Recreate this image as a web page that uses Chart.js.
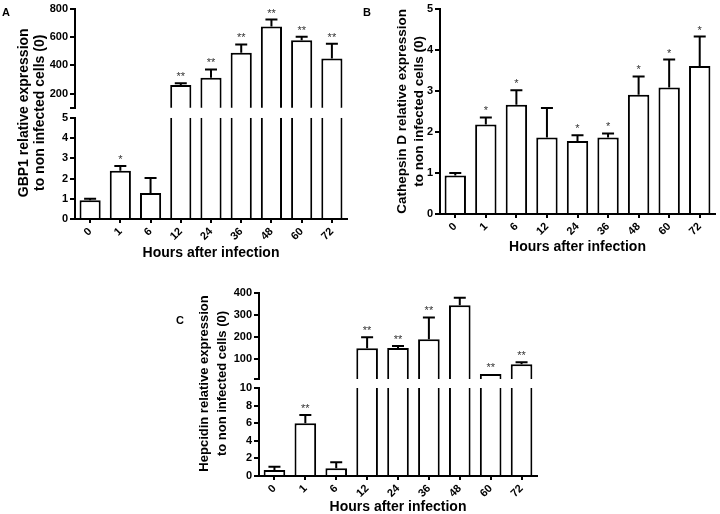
<!DOCTYPE html>
<html>
<head>
<meta charset="utf-8">
<script src="https://cdn.jsdelivr.net/npm/chart.js@4.4.1/dist/chart.umd.min.js"></script>
<style>
  html, body { margin: 0; padding: 0; background: #fff; }
  #fig { position: relative; width: 720px; height: 514px; overflow: hidden; }
  #fig canvas { position: absolute; }
</style>
</head>
<body>
<div id="fig">
  <canvas id="chartA" width="360" height="262" style="left:0;top:0"></canvas>
  <canvas id="chartB" width="360" height="262" style="left:360px;top:0"></canvas>
  <canvas id="chartC" width="380" height="246" style="left:170px;top:270px"></canvas>
</div>
<script>
const hours = ['0', '1', '6', '12', '24', '36', '48', '60', '72'];

// A - GBP1
const gbp1 = [0.92, 2.38, 1.28, 261, 312, 488, 673, 577, 448];
const gbp1Err = [1.0, 2.62, 2.03, 273, 371, 547, 723, 601, 552];
const gbp1Stars = ['', '*', '', '**', '**', '**', '**', '**', '**'];
const gbp1TopTicks = [100, 200, 400, 600, 800];
const gbp1BotTicks = [0, 1, 2, 3, 4, 5];

// B - Cathepsin D
const ctsd = [0.94, 2.18, 2.66, 1.86, 1.78, 1.86, 2.9, 3.08, 3.6];
const ctsdErr = [1.0, 2.35, 3.01, 2.58, 1.92, 1.96, 3.35, 3.76, 4.32];
const ctsdStars = ['', '*', '*', '', '*', '*', '*', '*', '*'];
const ctsdTicks = [0, 1, 2, 3, 4, 5];

// C - Hepcidin
const hepc = [0.68, 6.0, 0.87, 149, 151, 190, 344, 33, 77];
const hepcErr = [1.06, 6.93, 1.55, 199, 160, 289, 379, null, 86];
const hepcStars = ['', '**', '', '**', '**', '**', '', '**', '**'];
const hepcTopTicks = [10, 100, 200, 300, 400];
const hepcBotTicks = [0, 2, 4, 6, 8, 10];

Chart.defaults.font.family = '"Liberation Sans", Arial, sans-serif';
Chart.defaults.color = '#000';

// upper error whisker + significance stars
function errorPlugin(values, errs, stars, botMax) {
  return {
    id: 'errbars',
    afterDatasetsDraw(chart) {
      const ctx = chart.ctx;
      const meta = chart.getDatasetMeta(0);
      const yb = chart.scales.yb || chart.scales.y;
      const yt = chart.scales.yt;
      ctx.save();
      ctx.strokeStyle = '#000';
      ctx.lineWidth = 2;
      ctx.fillStyle = '#333';
      ctx.font = '11px "Liberation Sans", Arial';
      ctx.textAlign = 'center';
      ctx.textBaseline = 'alphabetic';
      values.forEach((v, i) => {
        const s = (yt && v > botMax) ? yt : yb;
        const x = meta.data[i].x;
        let top = s.getPixelForValue(v);
        if (errs[i] != null) {
          const ey = s.getPixelForValue(errs[i]);
          ctx.beginPath();
          ctx.moveTo(x, top);
          ctx.lineTo(x, ey);
          ctx.moveTo(x - 6, ey);
          ctx.lineTo(x + 6, ey);
          ctx.stroke();
          top = ey;
        }
        if (stars[i]) ctx.fillText(stars[i], x, top - 3);
      });
      ctx.restore();
    }
  };
}

function letterPlugin(letter, x, y) {
  return {
    id: 'letter',
    afterDraw(chart) {
      const c = chart.ctx;
      c.save();
      c.font = 'bold 11px "Liberation Sans", Arial';
      c.fillStyle = '#000';
      c.textBaseline = 'top';
      c.fillText(letter, x, y);
      c.restore();
    }
  };
}

function yAxis(ticks, blank, extra) {
  return Object.assign({
    type: 'linear',
    position: 'left',
    min: ticks[0],
    max: ticks[ticks.length - 1],
    afterBuildTicks: s => { s.ticks = ticks.map(v => ({ value: v })); },
    border: { color: '#000', width: 2 },
    grid: { drawOnChartArea: false, color: '#000', lineWidth: 2, tickLength: 5 },
    ticks: { font: { size: 11, weight: 'bold' }, padding: 2, autoSkip: false, callback: v => blank.includes(v) ? '' : v }
  }, extra);
}

function xAxis(height, titlePad) {
  return {
    type: 'category',
    offset: true,
    afterFit: s => { s.height = height; },
    border: { color: '#000', width: 2 },
    grid: { offset: false, drawOnChartArea: false, color: '#000', lineWidth: 2, tickLength: 4 },
    ticks: { font: { size: 11, weight: 'bold' }, minRotation: 45, maxRotation: 45, padding: 2, autoSkip: false },
    title: { display: true, text: 'Hours after infection', font: { size: 14, weight: 'bold' }, padding: { top: 0, bottom: titlePad } }
  };
}

const barOpts = { grouped: false, barPercentage: 0.7, categoryPercentage: 1 };

// panel with a broken y axis: two stacked scales with an empty spacer between
function brokenPanel(id, o) {
  const botMax = o.botTicks[o.botTicks.length - 1];
  const topMin = o.topTicks[0];
  const yw = s => { s.width = o.yWidth; };
  new Chart(document.getElementById(id), {
    type: 'bar',
    data: {
      labels: hours,
      datasets: [
        {
          data: o.values.map(v => Math.min(v, botMax)),
          yAxisID: 'yb',
          backgroundColor: '#fff',
          borderColor: '#000',
          borderWidth: c => o.values[c.dataIndex] > botMax ? { left: 2, right: 2, top: 0, bottom: 0 } : 2
        },
        {
          data: o.values.map(v => v > topMin ? v : null),
          yAxisID: 'yt',
          backgroundColor: '#fff',
          borderColor: '#000',
          borderSkipped: 'start',
          borderWidth: 2
        }
      ]
    },
    options: {
      responsive: false,
      animation: false,
      layout: { padding: o.padding },
      datasets: { bar: barOpts },
      plugins: { legend: { display: false }, tooltip: { enabled: false }, colors: { enabled: false } },
      scales: {
        x: xAxis(o.xHeight, o.xTitlePad),
        yt: yAxis(o.topTicks, [topMin], { stack: 'y', stackWeight: o.weights[0], weight: 3, afterFit: yw }),
        gap: {
          type: 'linear', position: 'left', stack: 'y', stackWeight: o.weights[1], weight: 2,
          min: 0, max: 1, afterFit: yw,
          border: { display: false }, grid: { display: false }, ticks: { display: false },
          title: {
            display: true, text: o.yTitle,
            font: { size: o.titleSize, weight: 'bold', lineHeight: o.titleLH },
            padding: { top: o.titlePad, bottom: 0 }
          }
        },
        yb: yAxis(o.botTicks, [], { stack: 'y', stackWeight: o.weights[2], weight: 1, afterFit: yw })
      }
    },
    plugins: [errorPlugin(o.values, o.errs, o.stars, botMax), letterPlugin(o.letter, o.lx, o.ly)]
  });
}

brokenPanel('chartA', {
  values: gbp1, errs: gbp1Err, stars: gbp1Stars,
  topTicks: gbp1TopTicks, botTicks: gbp1BotTicks,
  yTitle: ['GBP1 relative expression', 'to non infected cells (0)'],
  titleSize: 14, titleLH: 1.15, titlePad: 16,
  yWidth: 75, weights: [100, 10, 102], xHeight: 43, xTitlePad: 0,
  padding: { left: 0, right: 13, top: 7, bottom: 0 },
  letter: 'A', lx: 2, ly: 7
});

new Chart(document.getElementById('chartB'), {
  type: 'bar',
  data: {
    labels: hours,
    datasets: [{ data: ctsd, backgroundColor: '#fff', borderColor: '#000', borderWidth: 2 }]
  },
  options: {
    responsive: false,
    animation: false,
    layout: { padding: { left: 0, right: 5, top: 5, bottom: 0 } },
    datasets: { bar: barOpts },
    plugins: { legend: { display: false }, tooltip: { enabled: false }, colors: { enabled: false } },
    scales: {
      x: xAxis(48, 6),
      y: yAxis(ctsdTicks, [], {
        afterFit: s => { s.width = 80; },
        title: {
          display: true, text: ['Cathepsin D relative expression', 'to non infected cells (0)'],
          font: { size: 13.5, weight: 'bold', lineHeight: 1.26 },
          padding: { top: 34, bottom: 0 }
        }
      })
    }
  },
  plugins: [errorPlugin(ctsd, ctsdErr, ctsdStars, Infinity), letterPlugin('B', 3, 7)]
});

brokenPanel('chartC', {
  values: hepc, errs: hepcErr, stars: hepcStars,
  topTicks: hepcTopTicks, botTicks: hepcBotTicks,
  yTitle: ['Hepcidin relative expression', 'to non infected cells (0)'],
  titleSize: 13, titleLH: 1.4, titlePad: 25,
  yWidth: 89, weights: [86, 9, 88], xHeight: 40, xTitlePad: 0,
  padding: { left: 0, right: 13, top: 23, bottom: 0 },
  letter: 'C', lx: 6, ly: 45
});
</script>
</body>
</html>
